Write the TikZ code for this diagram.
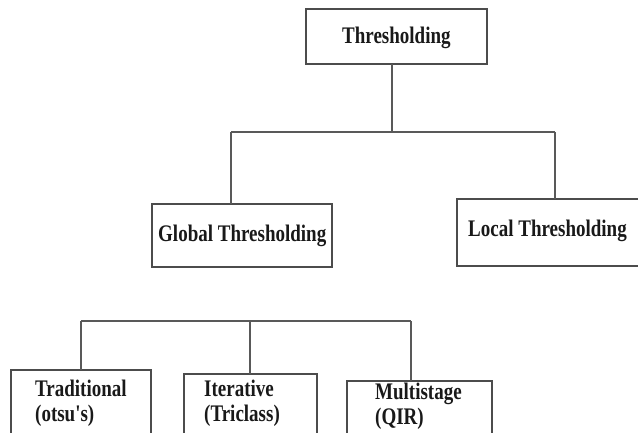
\documentclass[tikz,border=0pt]{standalone}
\usepackage{fontspec}
\setmainfont{Liberation Serif}
\usepackage{graphicx}
\begin{document}
\begin{tikzpicture}[x=1pt,y=-1pt,
  box/.style={draw=black!70, line width=1.4pt, anchor=north west, inner sep=0pt, outer sep=0pt},
  txt/.style={anchor=base west, inner sep=0pt, text=black!90, font=\fontsize{19}{22}\selectfont\bfseries},
  link/.style={draw=black!65, line width=1.3pt}]
\useasboundingbox (0,0) rectangle (638,432);
% boxes
\node[box, minimum width=181pt, minimum height=55pt] (top) at (306,9) {};
\node[box, minimum width=180pt, minimum height=63pt] (gl) at (152,204) {};
\node[box, minimum width=190pt, minimum height=67pt] (lo) at (457,199) {};
\node[box, minimum width=140pt, minimum height=66pt] (tr) at (11,370) {};
\node[box, minimum width=133pt, minimum height=62pt] (it) at (184,374) {};
\node[box, minimum width=145pt, minimum height=55pt] (mu) at (347,381) {};
% texts
\node[txt] (t1) at (342,43) {\scalebox{1}[1.25]{Thresholding}};
\node[txt] (t2) at (158,241.5) {\scalebox{1}[1.25]{Global Thresholding}};
\node[txt] (t3) at (468,236.5) {\scalebox{1}[1.25]{Local Thresholding}};
\node[txt] (t4) at (35,396) {\scalebox{1}[1.25]{Traditional}};
\node[txt] (t5) at (35,421) {\scalebox{1}[1.25]{(otsu\textquotesingle s)}};
\node[txt] (t6) at (204,396.5) {\scalebox{1}[1.25]{Iterative}};
\node[txt] (t7) at (204,421.5) {\scalebox{1}[1.25]{(Triclass)}};
\node[txt] (t8) at (375,399) {\scalebox{1}[1.25]{Multistage}};
\node[txt] (t9) at (375,424) {\scalebox{1}[1.25]{(QIR)}};
% connectors, level 1
\coordinate (j) at (392,132);
\coordinate (bl) at (231,132);
\coordinate (br) at (555,132);
\draw[link] (j |- top.south) -- (j);
\draw[link] (bl) -- (br);
\draw[link] (bl) -- (bl |- gl.north);
\draw[link] (br) -- (br |- lo.north);
% connectors, level 2
\coordinate (cl) at (81,321);
\coordinate (cm) at (250,321);
\coordinate (cr) at (411,321);
\draw[link] (cl) -- (cr);
\draw[link] (cl) -- (cl |- tr.north);
\draw[link] (cm) -- (cm |- it.north);
\draw[link] (cr) -- (cr |- mu.north);
\end{tikzpicture}
\end{document}
